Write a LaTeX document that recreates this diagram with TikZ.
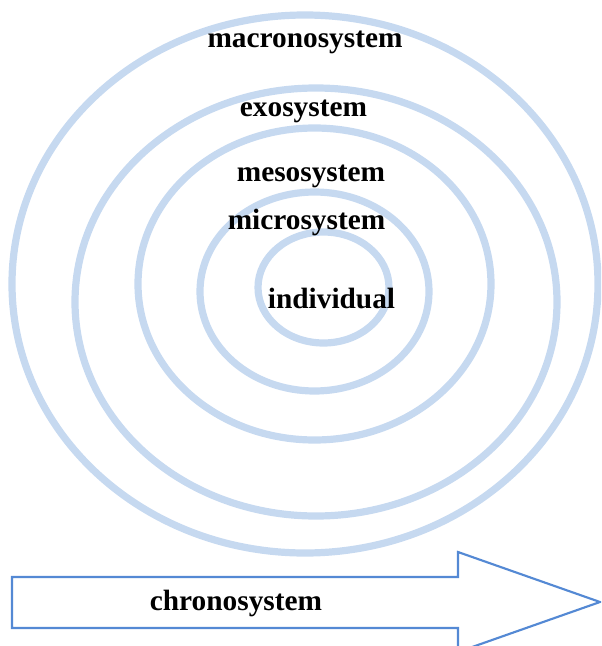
\documentclass[tikz,border=0pt]{standalone}
\usepackage{fontspec}
\setmainfont{Liberation Serif}
\usepackage{tikz}
\usetikzlibrary{positioning}
\definecolor{ringblue}{HTML}{C6D9F0}
\definecolor{arrowblue}{HTML}{5489D4}

\begin{document}
\begin{tikzpicture}[
  x=0.75pt, y=-0.75pt,
  ring/.style={draw=ringblue, line width=5.4pt},
  timearrow/.style={draw=arrowblue, line width=1.6pt, fill=white, line join=miter},
  lbl/.style={anchor=base, inner sep=0pt, font=\fontsize{22}{26}\selectfont\bfseries, text=black}
]
\useasboundingbox (0,0) rectangle (601,646);
\clip (0,0) rectangle (601,646);

%=== NESTED SYSTEMS ===
\draw[ring] (305,284)   ellipse [x radius=293,   y radius=269];
\draw[ring] (316,302)   ellipse [x radius=241,   y radius=214];
\draw[ring] (314.5,284) ellipse [x radius=176.5, y radius=156];
\draw[ring] (314.5,291.5) ellipse [x radius=114.5, y radius=99.5];
\draw[ring] (323.5,287.5) ellipse [x radius=65.5,  y radius=55.5];

%=== SYSTEM LABELS ===
\node[lbl] (macro) at (305,47)    {macronosystem};
\node[lbl] (exo)   at (303.5,116.7) {exosystem};
\node[lbl] (meso)  at (311,181.7)  {mesosystem};
\node[lbl] (micro) at (306.5,229)  {microsystem};
\node[lbl] (indiv) at (331.5,308)  {individual};

%=== CHRONOSYSTEM ARROW ===
\draw[timearrow] (12,577) -- (458,577) -- (458,552) -- (600,602)
  -- (458,652) -- (458,628) -- (12,628) -- cycle;
\node[lbl] (chrono) at (236,610) {chronosystem};

\end{tikzpicture}
\end{document}
